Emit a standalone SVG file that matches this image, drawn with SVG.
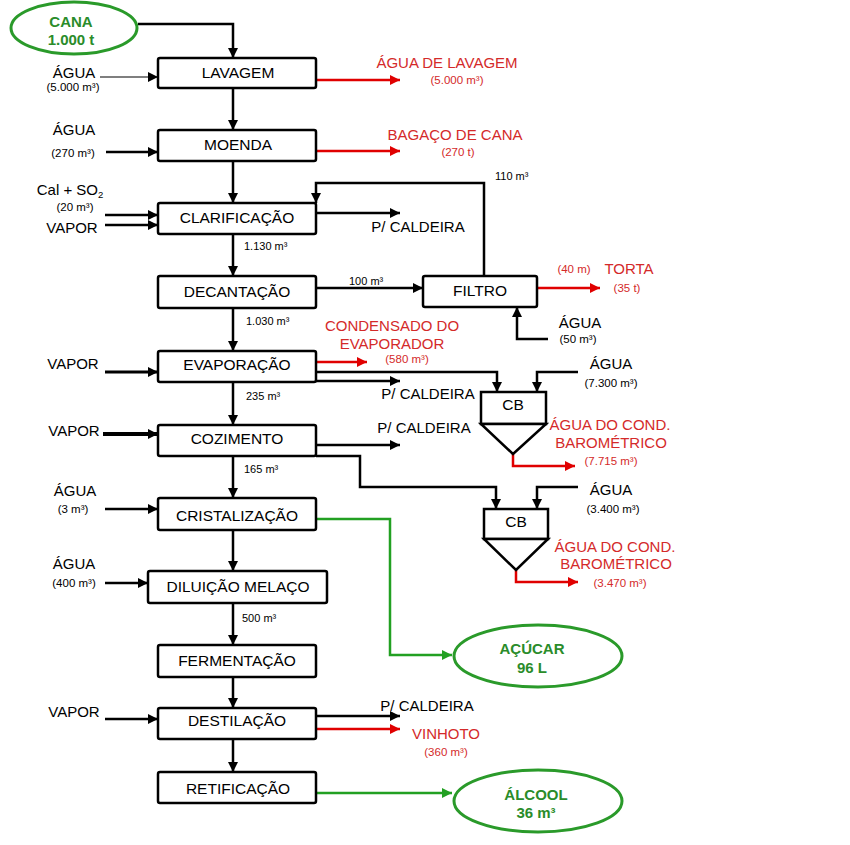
<svg xmlns="http://www.w3.org/2000/svg" width="850" height="845" viewBox="0 0 850 845">
<defs>
<marker id="ak" markerUnits="userSpaceOnUse" markerWidth="11" markerHeight="10" refX="10" refY="5" orient="auto"><path d="M0,0 L10,5 L0,10 z" fill="#000"/></marker>
<marker id="ar" markerUnits="userSpaceOnUse" markerWidth="11" markerHeight="10" refX="10" refY="5" orient="auto"><path d="M0,0 L10,5 L0,10 z" fill="#e00000"/></marker>
<marker id="ag" markerUnits="userSpaceOnUse" markerWidth="11" markerHeight="10" refX="10" refY="5" orient="auto"><path d="M0,0 L10,5 L0,10 z" fill="#22a022"/></marker>
</defs>
<style>
text{font-family:"Liberation Sans",Arial,sans-serif;}
.box{fill:#fff;stroke:#000;stroke-width:2.5;}
.bl{font-size:15.5px;text-anchor:middle;fill:#000;}
.lbl{font-size:15px;fill:#000;text-anchor:middle;}
.sm{font-size:11.5px;fill:#000;text-anchor:middle;}
.fl{font-size:11px;fill:#000;}
.red{fill:#d42a2a;}
.grn{font-size:15px;font-weight:bold;fill:#2a8c2a;text-anchor:middle;}
.ell{fill:#fff;stroke:#2a9a2a;stroke-width:3;}
.k{fill:none;stroke:#000;stroke-width:2.5;marker-end:url(#ak);}
.r{fill:none;stroke:#e00000;stroke-width:2.5;marker-end:url(#ar);}
.g{fill:none;stroke:#22a022;stroke-width:2.5;marker-end:url(#ag);}
</style>
<rect width="850" height="845" fill="#fff"/>

<g id="connectors">
<path class="k" d="M138,24 H233 V58"/>
<path class="k" d="M233,88 V130"/>
<path class="k" d="M233,161 V203"/>
<path class="k" d="M233,234 V276"/>
<path class="k" d="M233,308 V351"/>
<path class="k" d="M233,382 V425"/>
<path class="k" d="M233,456 V498"/>
<path class="k" d="M233,530 V571"/>
<path class="k" d="M233,603 V645"/>
<path class="k" d="M233,677 V708"/>
<path class="k" d="M233,739 V772"/>
<path d="M100,77 H158" fill="none" stroke="#555" stroke-width="1.5" marker-end="url(#ak)"/>
<path class="k" d="M106,152 H158"/>
<path class="k" d="M105,215 H158"/>
<path class="k" d="M105,225 H158"/>
<path class="k" d="M105,372 H158" style="stroke-width:3"/>
<path class="k" d="M103,434 H158" style="stroke-width:4"/>
<path class="k" d="M105,509 H158"/>
<path class="k" d="M105,583 H148"/>
<path class="k" d="M105,719 H158"/>
<path class="r" d="M316,80 H400"/>
<path class="r" d="M316,151 H400"/>
<path class="k" d="M484,276 V183 H316 V203"/>
<path class="k" d="M316,213 H400"/>
<path class="k" d="M316,288 H423"/>
<path class="r" d="M537,288 H600"/>
<path class="k" d="M548,339 H517 V307"/>
<path class="r" d="M316,362 H367"/>
<path class="k" d="M316,372 H497 V392"/>
<path class="k" d="M316,381 H400"/>
<path class="k" d="M578,372 H537 V392"/>
<path class="r" d="M513,454 V466 H575"/>
<path class="k" d="M316,445 H400"/>
<path class="k" d="M316,456 H360 V487 H496 V509"/>
<path class="k" d="M578,487 H537 V509"/>
<path class="r" d="M516,570 V582 H578"/>
<path class="g" d="M316,519 H390 V655 H452"/>
<path class="k" d="M316,716 H400"/>
<path class="r" d="M316,729 H400"/>
<path class="g" d="M316,793 H452"/>
</g>

<g id="cana"><ellipse class="ell" cx="74" cy="28" rx="63" ry="26"/><text class="grn" x="71" y="27">CANA</text><text class="grn" x="71" y="45">1.000 t</text></g>
<g id="lavagem"><rect class="box" x="158" y="58" width="158" height="30" rx="2"/><text class="bl" x="238" y="78">LAVAGEM</text></g>
<g id="moenda"><rect class="box" x="158" y="130" width="158" height="31" rx="2"/><text class="bl" x="238" y="150">MOENDA</text></g>
<g id="clarificacao"><rect class="box" x="158" y="203" width="158" height="31" rx="2"/><text class="bl" x="237" y="223">CLARIFICAÇÃO</text></g>
<g id="decantacao"><rect class="box" x="158" y="276" width="158" height="32" rx="2"/><text class="bl" x="237" y="297">DECANTAÇÃO</text></g>
<g id="evaporacao"><rect class="box" x="158" y="351" width="158" height="31" rx="2"/><text class="bl" x="237" y="370">EVAPORAÇÃO</text></g>
<g id="cozimento"><rect class="box" x="158" y="425" width="158" height="31" rx="2"/><text class="bl" x="237" y="444">COZIMENTO</text></g>
<g id="cristalizacao"><rect class="box" x="158" y="498" width="158" height="32" rx="2"/><text class="bl" x="237" y="521">CRISTALIZAÇÃO</text></g>
<g id="diluicao"><rect class="box" x="148" y="571" width="179" height="32" rx="2"/><text class="bl" x="238" y="592">DILUIÇÃO MELAÇO</text></g>
<g id="fermentacao"><rect class="box" x="158" y="645" width="158" height="32" rx="2"/><text class="bl" x="237" y="666">FERMENTAÇÃO</text></g>
<g id="destilacao"><rect class="box" x="158" y="708" width="158" height="31" rx="2"/><text class="bl" x="237" y="726">DESTILAÇÃO</text></g>
<g id="retificacao"><rect class="box" x="158" y="772" width="158" height="31" rx="2"/><text class="bl" x="238" y="794">RETIFICAÇÃO</text></g>
<g id="filtro"><rect class="box" x="423" y="276" width="114" height="31" rx="2"/><text class="bl" x="480" y="296">FILTRO</text></g>
<g id="cb1"><rect class="box" x="481" y="392" width="65" height="32"/><path class="box" d="M481,424 H546 L513,454 Z"/><text class="bl" x="513" y="410">CB</text></g>
<g id="cb2"><rect class="box" x="484" y="509" width="64" height="30"/><path class="box" d="M484,539 H548 L516,570 Z"/><text class="bl" x="516" y="527">CB</text></g>
<g id="acucar"><ellipse class="ell" cx="538" cy="656" rx="84" ry="31"/><text class="grn" x="532" y="654">AÇÚCAR</text><text class="grn" x="532" y="673">96 L</text></g>
<g id="alcool"><ellipse class="ell" cx="538" cy="801" rx="84" ry="31"/><text class="grn" x="536" y="800">ÁLCOOL</text><text class="grn" x="536" y="818">36 m³</text></g>

<g id="labels">
<text class="lbl" x="74" y="78">ÁGUA</text><text class="sm" x="73" y="91">(5.000 m³)</text>
<text class="lbl" x="74" y="135">ÁGUA</text><text class="sm" x="73" y="157">(270 m³)</text>
<text class="lbl" x="70" y="195">Cal + SO<tspan font-size="9.5" dy="3">2</tspan></text><text class="sm" x="75" y="211">(20 m³)</text>
<text class="lbl" x="72" y="233">VAPOR</text>
<text class="fl" x="244" y="250">1.130 m³</text>
<text class="fl" x="246" y="325">1.030 m³</text>
<text class="fl" x="246" y="400">235 m³</text>
<text class="fl" x="244" y="473">165 m³</text>
<text class="fl" x="242" y="622">500 m³</text>
<text class="lbl" x="73" y="369">VAPOR</text>
<text class="lbl" x="74" y="436">VAPOR</text>
<text class="lbl" x="75" y="496">ÁGUA</text><text class="sm" x="73" y="513">(3 m³)</text>
<text class="lbl" x="74" y="569">ÁGUA</text><text class="sm" x="74" y="587">(400 m³)</text>
<text class="lbl" x="74" y="717">VAPOR</text>
<text class="lbl red" x="447" y="68">ÁGUA DE LAVAGEM</text><text class="sm red" x="457" y="84">(5.000 m³)</text>
<text class="lbl red" x="455" y="140">BAGAÇO DE CANA</text><text class="sm red" x="458" y="156">(270 t)</text>
<text class="fl" x="495" y="180">110 m³</text>
<text class="lbl" x="418" y="232">P/ CALDEIRA</text>
<text class="fl" x="349" y="285">100 m³</text>
<text class="sm red" x="574" y="273">(40 m)</text>
<text class="lbl red" x="629" y="274">TORTA</text>
<text class="sm red" x="627" y="292">(35 t)</text>
<text class="lbl" x="580" y="328">ÁGUA</text><text class="sm" x="578" y="343">(50 m³)</text>
<text class="lbl red" x="392" y="331">CONDENSADO DO</text>
<text class="lbl red" x="392" y="349">EVAPORADOR</text>
<text class="sm red" x="407" y="363">(580 m³)</text>
<text class="lbl" x="428" y="399">P/ CALDEIRA</text>
<text class="lbl" x="611" y="369">ÁGUA</text><text class="sm" x="611" y="387">(7.300 m³)</text>
<text class="lbl red" x="610" y="430">ÁGUA DO COND.</text>
<text class="lbl red" x="611" y="448">BAROMÉTRICO</text>
<text class="sm red" x="611" y="465">(7.715 m³)</text>
<text class="lbl" x="424" y="433">P/ CALDEIRA</text>
<text class="lbl" x="611" y="495">ÁGUA</text><text class="sm" x="613" y="513">(3.400 m³)</text>
<text class="lbl red" x="615" y="552">ÁGUA DO COND.</text>
<text class="lbl red" x="616" y="569">BAROMÉTRICO</text>
<text class="sm red" x="620" y="587">(3.470 m³)</text>
<text class="lbl" x="427" y="711">P/ CALDEIRA</text>
<text class="lbl red" x="446" y="739">VINHOTO</text>
<text class="sm red" x="446" y="756">(360 m³)</text>
</g>
</svg>
